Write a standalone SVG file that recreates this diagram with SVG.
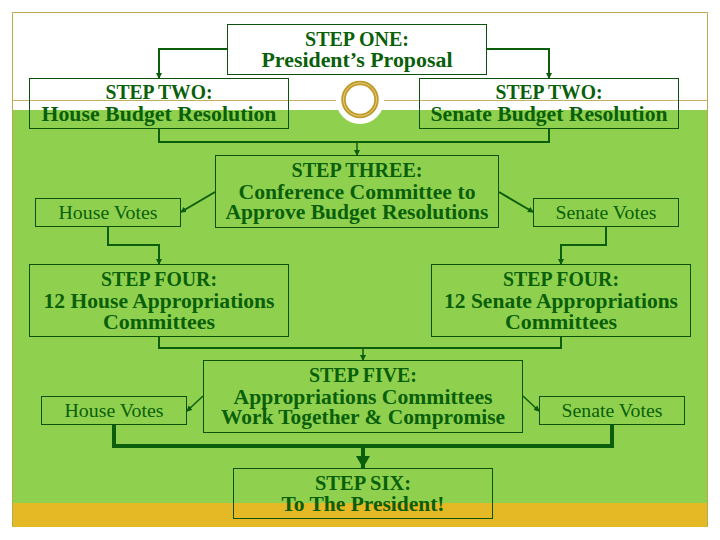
<svg xmlns="http://www.w3.org/2000/svg" width="720" height="540" viewBox="0 0 720 540">
<style>
.box{fill:none;stroke:#0c520c;stroke-width:1}
.c{fill:none;stroke:#0b5e0b;stroke-width:2}
.c1{fill:none;stroke:#0b5e0b;stroke-width:1.5}
.c3{fill:none;stroke:#0b5e0b;stroke-width:4}
text{font-family:"Liberation Serif","Times New Roman",serif;fill:#0a5f0a;text-anchor:middle;font-size:20px;font-weight:bold}
.v{font-weight:normal;font-size:18px}
</style>
<defs>
<marker id="a" viewBox="0 0 6 6" refX="5" refY="3" markerWidth="6" markerHeight="6" markerUnits="userSpaceOnUse" orient="auto"><path d="M0 0L6 3L0 6Z" fill="#0b5e0b"/></marker>
<marker id="b" viewBox="0 0 12 14" refX="12" refY="7" markerWidth="12" markerHeight="14" markerUnits="userSpaceOnUse" orient="auto"><path d="M0 0L12 7L0 14Z" fill="#0b5e0b"/></marker>
</defs>
<rect width="720" height="540" fill="#fff"/>
<g id="background">
<rect x="12" y="110" width="696" height="393" fill="#8fd14f"/>
<rect x="12" y="503" width="696" height="24" fill="#e5b825"/>
<path d="M12.500 527V12.500H707.500V527" fill="none" stroke="#b9a84f"/>
<path d="M12 100.500H336M384 100.500H708" stroke="#c4b060" fill="none"/>
<circle cx="360" cy="100" r="24" fill="#fff"/>
<circle cx="360" cy="99.500" r="16.500" fill="none" stroke="#bf9b2a" stroke-width="4.500"/>
<circle cx="360" cy="99.500" r="16.500" fill="none" stroke="#e8cf7a" stroke-width="1"/>
</g>
<g id="connectors">
<path class="c" d="M227 49H159V78" marker-end="url(#a)"/>
<path class="c" d="M487 49H549V78" marker-end="url(#a)"/>
<path class="c" d="M159 128V142H549V128"/>
<path class="c1" d="M357 142V155" marker-end="url(#a)"/>
<path class="c" d="M215 192L181 212" marker-end="url(#a)"/>
<path class="c" d="M499 192L533 212" marker-end="url(#a)"/>
<path class="c" d="M108 226V245H159V264" marker-end="url(#a)"/>
<path class="c" d="M606 226V245H561V264" marker-end="url(#a)"/>
<path class="c" d="M159 336V348H561V336"/>
<path class="c1" d="M363 348V360" marker-end="url(#a)"/>
<path class="c1" d="M203 396L187 411" marker-end="url(#a)"/>
<path class="c1" d="M523 396L539 411" marker-end="url(#a)"/>
<path class="c3" d="M114 424V446H612V424"/>
<path class="c3" d="M363 446V468" marker-end="url(#b)"/>
</g>
<g id="step1"><rect class="box" x="227.500" y="24.500" width="259" height="50" style="fill:#fff"/><text x="357" y="45.500" textLength="104" lengthAdjust="spacingAndGlyphs">STEP ONE:</text><text x="357" y="67" textLength="191" lengthAdjust="spacingAndGlyphs">President’s Proposal</text></g>
<g id="step2-house"><rect class="box" x="29.500" y="78.500" width="259" height="50"/><text x="159" y="99" textLength="107" lengthAdjust="spacingAndGlyphs">STEP TWO:</text><text x="159" y="121" textLength="235" lengthAdjust="spacingAndGlyphs">House Budget Resolution</text></g>
<g id="step2-senate"><rect class="box" x="419.500" y="78.500" width="259" height="50"/><text x="549" y="99" textLength="107" lengthAdjust="spacingAndGlyphs">STEP TWO:</text><text x="549" y="121" textLength="237" lengthAdjust="spacingAndGlyphs">Senate Budget Resolution</text></g>
<g id="step3"><rect class="box" x="215.500" y="155.500" width="283" height="72"/><text x="357" y="176.500" textLength="131" lengthAdjust="spacingAndGlyphs">STEP THREE:</text><text x="357" y="198.500" textLength="237" lengthAdjust="spacingAndGlyphs">Conference Committee to</text><text x="357" y="219" textLength="263" lengthAdjust="spacingAndGlyphs">Approve Budget Resolutions</text></g>
<g id="house-votes-1"><rect class="box" x="35.500" y="198.500" width="145" height="28"/><text class="v" x="108" y="219" textLength="99" lengthAdjust="spacingAndGlyphs">House Votes</text></g>
<g id="senate-votes-1"><rect class="box" x="533.500" y="198.500" width="145" height="28"/><text class="v" x="606" y="219" textLength="101" lengthAdjust="spacingAndGlyphs">Senate Votes</text></g>
<g id="step4-house"><rect class="box" x="29.500" y="264.500" width="259" height="72"/><text x="159" y="285.500" textLength="116" lengthAdjust="spacingAndGlyphs">STEP FOUR:</text><text x="159" y="307.500" textLength="231" lengthAdjust="spacingAndGlyphs">12 House Appropriations</text><text x="159" y="328.500" textLength="112" lengthAdjust="spacingAndGlyphs">Committees</text></g>
<g id="step4-senate"><rect class="box" x="431.500" y="264.500" width="259" height="72"/><text x="561" y="285.500" textLength="116" lengthAdjust="spacingAndGlyphs">STEP FOUR:</text><text x="561" y="307.500" textLength="234" lengthAdjust="spacingAndGlyphs">12 Senate Appropriations</text><text x="561" y="328.500" textLength="112" lengthAdjust="spacingAndGlyphs">Committees</text></g>
<g id="step5"><rect class="box" x="203.500" y="360.500" width="319" height="72"/><text x="363" y="381.500" textLength="108" lengthAdjust="spacingAndGlyphs">STEP FIVE:</text><text x="363" y="403.500" textLength="259" lengthAdjust="spacingAndGlyphs">Appropriations Committees</text><text x="363" y="424" textLength="284" lengthAdjust="spacingAndGlyphs">Work Together &amp; Compromise</text></g>
<g id="house-votes-2"><rect class="box" x="41.500" y="396.500" width="145" height="28"/><text class="v" x="114" y="417" textLength="99" lengthAdjust="spacingAndGlyphs">House Votes</text></g>
<g id="senate-votes-2"><rect class="box" x="539.500" y="396.500" width="145" height="28"/><text class="v" x="612" y="417" textLength="101" lengthAdjust="spacingAndGlyphs">Senate Votes</text></g>
<g id="step6"><rect class="box" x="233.500" y="468.500" width="259" height="50"/><text x="363" y="489.500" textLength="96" lengthAdjust="spacingAndGlyphs">STEP SIX:</text><text x="363" y="511" textLength="163" lengthAdjust="spacingAndGlyphs">To The President!</text></g>
</svg>
